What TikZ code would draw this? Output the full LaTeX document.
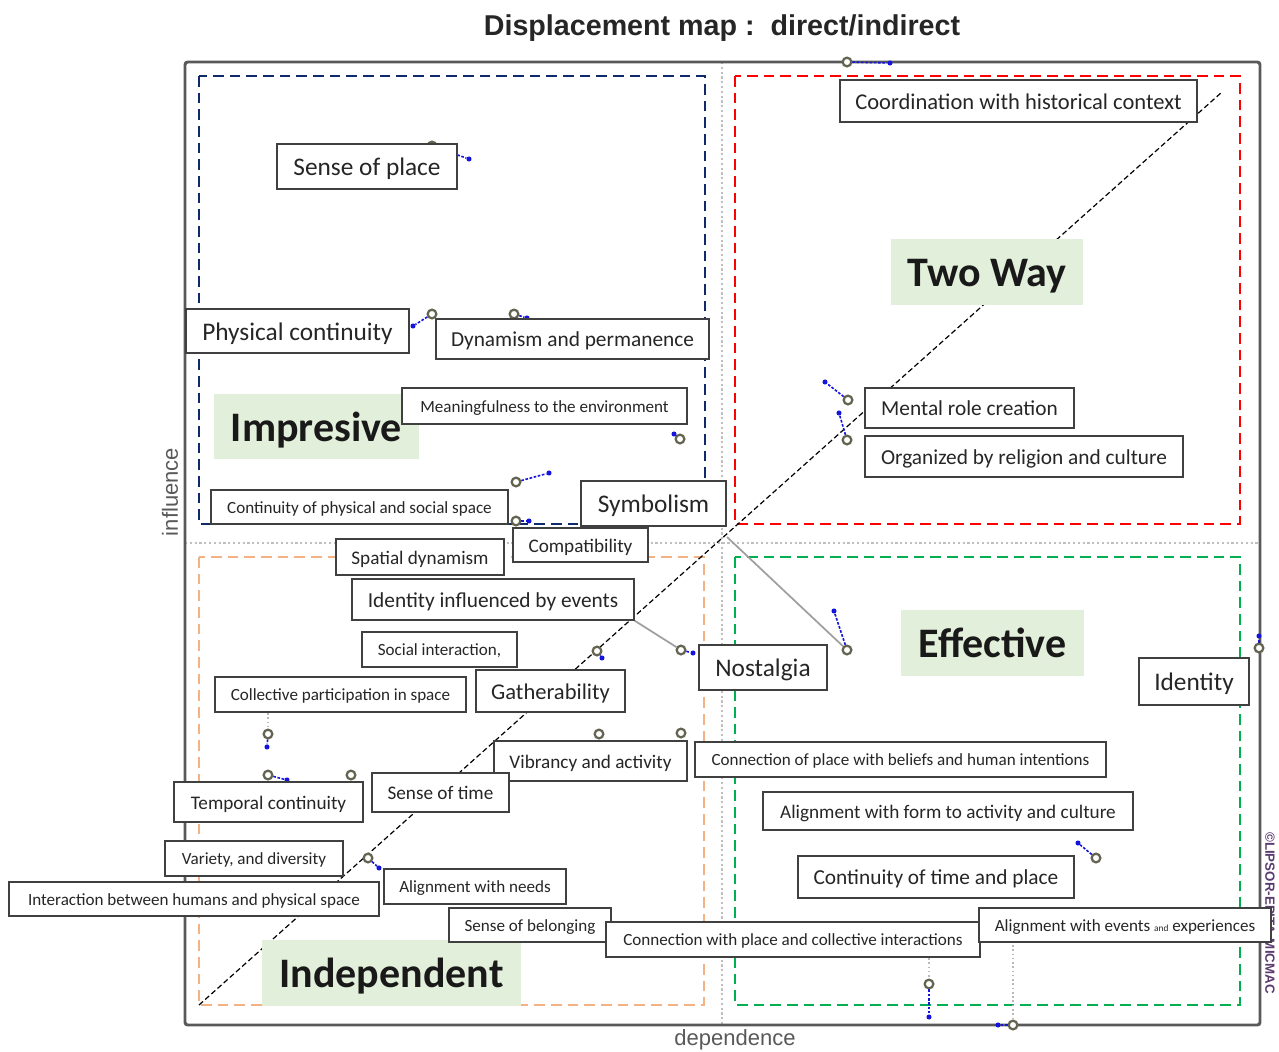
\documentclass[tikz,border=0pt]{standalone}
\usepackage{fontspec}
\setmainfont{Carlito}
\newfontfamily\arialf{Liberation Sans}
\definecolor{navyq}{RGB}{14,42,107}
\definecolor{redq}{RGB}{255,0,0}
\definecolor{orangeq}{RGB}{244,177,131}
\definecolor{greenq}{RGB}{0,176,80}
\definecolor{catbg}{RGB}{226,239,218}
\definecolor{txtc}{RGB}{38,38,38}
\definecolor{mkc}{RGB}{100,100,80}
\definecolor{blued}{RGB}{20,20,220}
\definecolor{copyc}{RGB}{90,60,110}
\newcommand\fsA{\fontsize{19}{21}\selectfont}
\newcommand\fsBB{\fontsize{16.9}{19}\selectfont}
\newcommand\fsB{\fontsize{16}{18}\selectfont}
\newcommand\fsC{\fontsize{14.4}{16}\selectfont}
\newcommand\fsD{\fontsize{12.8}{14}\selectfont}
\begin{document}
\begin{tikzpicture}[x=0.75pt,y=-0.75pt,
  bx/.style 2 args={minimum width=#1*0.75pt, minimum height=#2*0.75pt},
  lbl/.style={draw=black!75, line width=1.1pt, fill=white, inner sep=0pt, text=txtc},
  lblA/.style={lbl, font=\fsA, text height=16.7pt, text depth=2.7pt},
  lblBB/.style={lbl, font=\fsBB, text height=14.9pt, text depth=2.4pt},
  lblB/.style={lbl, font=\fsB, text height=14.1pt, text depth=2.2pt},
  lblC/.style={lbl, font=\fsC, text height=12.7pt, text depth=2pt},
  lblD/.style={lbl, font=\fsD, text height=11.3pt, text depth=1.8pt},
  cat/.style={fill=catbg, inner sep=0pt, text=black!90, font=\bfseries\fontsize{31.5}{34}\selectfont, text height=25.2pt, text depth=3.2pt},
  quad/.style={line width=1.2pt, dash pattern=on 8pt off 4.5pt},
  mk/.style={circle, draw=mkc, fill=white, line width=1.7pt, inner sep=0pt, minimum size=6.5pt},
  bd/.style={circle, fill=blued, inner sep=0pt, minimum size=3.8pt},
  bl/.style={blued, line width=1.2pt, dash pattern=on 2pt off 1.2pt},
  gl/.style={gray!75, line width=1.3pt},
  gd/.style={gray!55, line width=1.2pt, dotted}
]
\useasboundingbox (0,0) rectangle (1279,1051);
\fill[white] (0,0) rectangle (1279,1051);

% title and axis labels
\node[font=\arialf\bfseries\fontsize{21.5}{24}\selectfont, text=black!85] (title) at (722,28) {Displacement map :\ \ direct/indirect};
\node[font=\arialf\fontsize{16.5}{18}\selectfont, text=black!65, rotate=90] (infl) at (170,492) {influence};
\node[font=\arialf\fontsize{16.5}{18}\selectfont, text=black!65] (dep) at (735,1040) {dependence};
\node[font=\arialf\bfseries\fontsize{10}{11}\selectfont, text=copyc, rotate=-90] (copy) at (1270,913) {\textcopyright LIPSOR-EPITA-MICMAC};

% middle grid lines
\draw[gray!50, line width=1.6pt, dotted] (722,62) -- (722,1025);
\draw[gray!50, line width=1.6pt, dotted] (185,543) -- (1260,543);

% frame
\draw[black!65, line width=2.2pt, rounded corners=2pt] (185,62) rectangle (1260,1025);

% quadrant boxes
\draw[quad, navyq] (199,76) rectangle (705,524);
\draw[quad, redq] (735,76) rectangle (1240,524);
\draw[quad, orangeq] (199,557) rectangle (704,1005);
\draw[quad, greenq] (735,557) rectangle (1240,1005);

% diagonal
\draw[black, line width=0.9pt, dash pattern=on 4pt off 2.2pt] (199,1005) -- (1222,92);

% grey connectors and dotted guides
\coordinate (junc) at (727,537);
\coordinate (g14) at (268,713);
\coordinate (g21) at (929,958);
\coordinate (g22) at (1013,945);

% markers
\node[mk] (m1) at (432,146) {}; \node[bd] (b1) at (469,159) {};
\node[mk] (m2) at (432,314) {}; \node[bd] (b2) at (413,326) {};
\node[mk] (m3) at (514,314) {}; \node[bd] (b3) at (527,318) {};
\node[mk] (m4) at (680,439) {}; \node[bd] (b4) at (674,434) {};
\node[mk] (m5) at (516,482) {}; \node[bd] (b5) at (549,473) {};
\node[mk] (m6) at (516,521) {}; \node[bd] (b6) at (529,521) {};
\node[mk] (m7) at (847,62) {};  \node[bd] (b7) at (890,63) {};
\node[mk] (m8) at (848,400) {}; \node[bd] (b8) at (825,382) {};
\node[mk] (m9) at (847,440) {}; \node[bd] (b9) at (839,413) {};
\node[mk] (m10) at (681,650) {}; \node[bd] (b10) at (693,653) {};
\node[mk] (m11) at (847,650) {}; \node[bd] (b11) at (834,611) {};
\node[mk] (m12) at (597,651) {}; \node[bd] (b12) at (602,658) {};
\node[mk] (m13) at (1259,648) {}; \node[bd] (b13) at (1259,636) {};
\node[mk] (m14) at (268,734) {}; \node[bd] (b14) at (267,747) {};
\node[mk] (m15) at (268,775) {}; \node[bd] (b15) at (287,780) {};
\node[mk] (m16) at (351,775) {};
\node[mk] (m17) at (599,734) {};
\node[mk] (m18) at (681,733) {};
\node[mk] (m19) at (368,858) {}; \node[bd] (b19) at (379,868) {};
\node[mk] (m20) at (1096,858) {}; \node[bd] (b20) at (1078,843) {};
\node[mk] (m21) at (929,984) {}; \node[bd] (b21) at (929,1017) {};
\node[mk] (m22) at (1013,1025) {}; \node[bd] (b22) at (998,1025) {};

\foreach \i in {1,2,3,4,5,6,7,8,9,10,11,12,13,14,15,19,20,21,22}
  \draw[bl] (m\i) -- (b\i);
\draw[gd] (g14) -- (m14);
\draw[gd] (g21) -- (m21);
\draw[gd] (g22) -- (m22);
\draw[gl] (junc) -- (m11);

% category labels
\node[cat, bx={192}{66}] (twoway) at (987,272) {Two Way};
\node[cat, bx={205}{65}] (impr) at (316.5,426.5) {Impresive};
\node[cat, bx={183}{66}] (effe) at (992.5,643) {Effective};
\node[cat, bx={259}{66}] (indep) at (391.5,973) {Independent};

% label boxes
\node[lblA, bx={180}{45}] (sop) at (367,166.5) {Sense of place};
\node[lblA, bx={223}{44}] (phc) at (297.5,331) {Physical continuity};
\node[lblB, bx={273}{40}] (dyn) at (572.5,339) {Dynamism and permanence};
\node[lblD, bx={285}{36}] (mea) at (544.5,406) {Meaningfulness to the environment};
\node[lblD, bx={297}{34}] (cps) at (359.5,507) {Continuity of physical and social space};
\node[lblA, bx={145}{45}] (sym) at (653.5,503.5) {Symbolism};
\node[lblC, bx={168}{36}] (spd) at (420,557) {Spatial dynamism};
\node[lblC, bx={135}{34}] (com) at (580.5,545) {Compatibility};
\node[lblB, bx={282}{41}] (idev) at (493,599.5) {Identity influenced by events};
\node[lblD, bx={155}{35}] (soc) at (439.5,649.5) {Social interaction,};
\node[lblD, bx={251}{35}] (col) at (340.5,694.5) {Collective participation in space};
\node[lblBB, bx={149}{42}] (gat) at (550.5,691) {Gatherability};
\node[lblA, bx={128}{45}] (nos) at (763,667.5) {Nostalgia};
\node[lblBB, bx={357}{42}] (coo) at (1018.5,101) {Coordination with historical context};
\node[lblB, bx={209}{40}] (men) at (969.5,408) {Mental role creation};
\node[lblB, bx={318}{41}] (org) at (1024,456.5) {Organized by religion and culture};
\node[lblA, bx={110}{47}] (ide) at (1194,681.5) {Identity};
\node[lblC, bx={193}{40}] (vib) at (590.5,761) {Vibrancy and activity};
\node[lblD, bx={411}{35}] (cob) at (900.5,759.5) {Connection of place with beliefs and human intentions};
\node[lblC, bx={370}{38}] (alf) at (948,811) {Alignment with form to activity and culture};
\node[lblB, bx={276}{42}] (ctp) at (936,877) {Continuity of time and place};
\node[lblC, bx={189}{40}] (tem) at (268.5,802) {Temporal continuity};
\node[lblC, bx={137}{39}] (sot) at (440.5,792.5) {Sense of time};
\node[lblD, bx={178}{35}] (var) at (254,858.5) {Variety, and diversity};
\node[lblD, bx={370}{34}] (int) at (194,899) {Interaction between humans and physical space};
\node[lblD, bx={182}{35}] (aln) at (475,886.5) {Alignment with needs};
\node[lblD, bx={162}{34}] (sob) at (530,925) {Sense of belonging};
\node[lblD, bx={374}{35}] (ccl) at (793,939.5) {Connection with place and collective interactions};
\node[lblD, bx={292}{34}] (ale) at (1125,925) {Alignment with events {\fontsize{7}{8}\selectfont and} experiences};

% connector from label box to Nostalgia marker
\draw[gl] (idev.south east) -- (m10);
\end{tikzpicture}
\end{document}
